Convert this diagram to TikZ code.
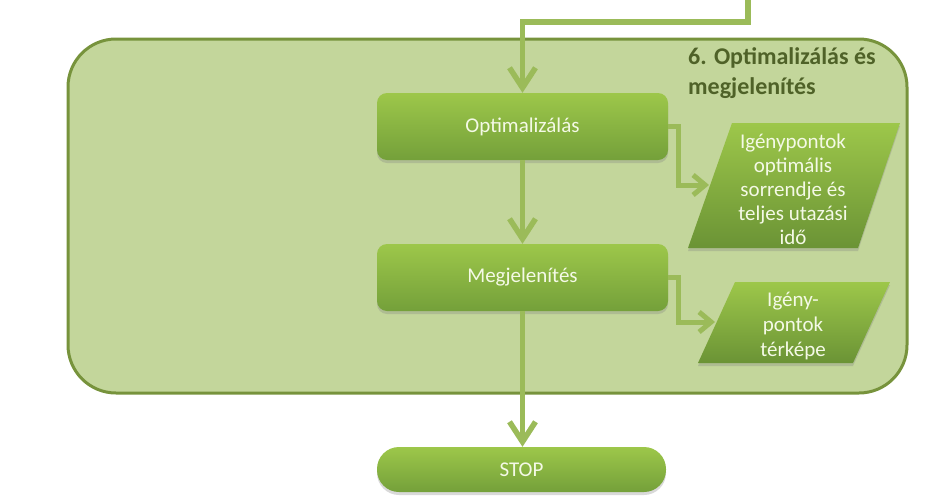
\documentclass[tikz,border=0pt]{standalone}
\usepackage{fontspec}
\setmainfont{Carlito}
\usetikzlibrary{arrows.meta,shadows}
\definecolor{contfill}{HTML}{C3D69B}
\definecolor{contline}{HTML}{77933C}
\definecolor{titlecol}{HTML}{4F6228}
\definecolor{arrcol}{HTML}{9BBB59}
\definecolor{boxtop}{HTML}{9DC74A}
\definecolor{boxbot}{HTML}{74A03A}
\definecolor{txtcol}{HTML}{F4F9E6}
\begin{document}
\begin{tikzpicture}[x=1pt,y=-1pt,
  container/.style={draw=contline, line width=3pt, fill=contfill, rounded corners=48pt, inner sep=0pt},
  titletext/.style={text=titlecol, font=\bfseries\fontsize{24}{30}\selectfont, align=left, inner sep=0pt},
  boxshape/.style={rounded corners=10pt, minimum width=291pt, minimum height=67pt,
    top color=boxtop, bottom color=boxbot, text=txtcol, font=\fontsize{21}{25}\selectfont, inner sep=0pt,
    drop shadow={shadow xshift=0pt, shadow yshift=-3pt, opacity=0.3}},
  parshape/.style={top color=boxtop, bottom color=boxbot!92!black,
    drop shadow={shadow xshift=0pt, shadow yshift=-3pt, opacity=0.3}},
  partext/.style={text=txtcol, align=center, inner sep=0pt},
  arr/.style={draw=arrcol, line width=5.5pt, -{Straight Barb[length=20pt,width=26pt]}},
  arrs/.style={draw=arrcol, line width=5pt, -{Straight Barb[length=12pt,width=20pt]}}
]
\useasboundingbox (0,0) rectangle (951,501);
\node[container, minimum width=839pt, minimum height=354pt] (cont) at (487.5,216) {};
\node[titletext, anchor=north west] (title) at (688,47.5) {6. Optimalizálás és\\megjelenítés};

\node[boxshape] (opt) at (522.5,126.5) {Optimalizálás};
\node[boxshape] (meg) at (522.5,277.5) {Megjelenítés};
\node[boxshape, rounded corners=22pt, minimum width=289pt, minimum height=45pt] (stop) at (521.5,469.5) {STOP};

\shade[parshape] (732,123) -- (900,123) -- (858,248) -- (688,248) -- cycle;
\node[partext, font=\fontsize{21}{24}\selectfont] (out1) at (793,189) {Igénypontok\\optimális\\sorrendje és\\teljes utazási\\idő};
\shade[parshape] (735,282) -- (890,282) -- (853,363) -- (698,363) -- cycle;
\node[partext, font=\fontsize{21}{25}\selectfont] (out2) at (793,326.5) {Igény-\\pontok\\térképe};

\coordinate (start) at (748,0);
\coordinate (in1) at (709,185);
\coordinate (in2) at (715,322);

\draw[arr] (start) -- ++(0,22) -| (opt.north);
\draw[arr] (opt.south) -- (meg.north);
\draw[arr] (meg.south) -- (meg.south |- stop.north);
\draw[arrs] (opt.east) -- ++(10,0) |- (in1);
\draw[arrs] (meg.east) -- ++(10,0) |- (in2);
\end{tikzpicture}
\end{document}
